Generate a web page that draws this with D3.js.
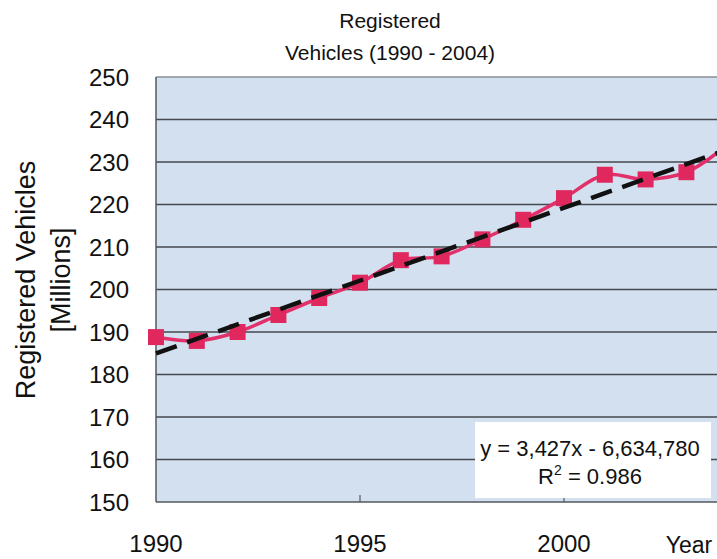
<!DOCTYPE html>
<html>
<head>
<meta charset="utf-8">
<script src="https://cdn.jsdelivr.net/npm/d3@7"></script>
<style>
  body { margin: 0; background: #fff; }
  svg { display: block; font-family: Arial, "Liberation Sans", sans-serif; }
</style>
</head>
<body>
<svg id="chart" width="717" height="559"></svg>
<script>
// values
var years = [1990, 1991, 1992, 1993, 1994, 1995, 1996, 1997, 1998, 1999, 2000, 2001, 2002, 2003, 2004];
var vehicles = [188.8, 187.9, 190.0, 194.0, 198.0, 201.6, 206.9, 207.8, 211.8, 216.4, 221.5, 227.0, 225.9, 227.6, 234.0];
var yTicks = [150, 160, 170, 180, 190, 200, 210, 220, 230, 240, 250];
var xTicks = [1990, 1995, 2000];
var trendSlope = 3.427;
var trendIntercept = -6634.780;
var equationText = "y = 3,427x - 6,634,780";
var r2Text = " = 0.986";

var svg = d3.select("#chart");
var plotLeft = 156, plotTop = 77, plotBottom = 502, plotRight = 717;

var x = d3.scaleLinear().domain([1990, 1995]).range([plotLeft, 360]);
var y = d3.scaleLinear().domain([150, 250]).range([plotBottom, plotTop]);

// plot area
svg.append("rect")
    .attr("x", plotLeft).attr("y", plotTop)
    .attr("width", plotRight - plotLeft).attr("height", plotBottom - plotTop)
    .attr("fill", "#d3e0f0");

// grid lines
svg.append("g").selectAll("line").data(yTicks.slice(1)).enter().append("line")
    .attr("x1", plotLeft).attr("x2", plotRight)
    .attr("y1", function(d){ return y(d); })
    .attr("y2", function(d){ return y(d); })
    .attr("stroke", function(d){ return d == 250 ? "#8a8f96" : "#45484e"; })
    .attr("stroke-width", 1.5);

// axes lines
svg.append("line").attr("x1", plotLeft).attr("x2", plotLeft).attr("y1", plotTop).attr("y2", plotBottom)
    .attr("stroke", "#55585d").attr("stroke-width", 1.5);
svg.append("line").attr("x1", plotLeft).attr("x2", plotRight).attr("y1", plotBottom).attr("y2", plotBottom)
    .attr("stroke", "#55585d").attr("stroke-width", 1.5);
svg.append("g").selectAll("line").data(xTicks.slice(1)).enter().append("line")
    .attr("x1", function(d){ return x(d); }).attr("x2", function(d){ return x(d); })
    .attr("y1", plotBottom - 7).attr("y2", plotBottom)
    .attr("stroke", "#55585d").attr("stroke-width", 1.2);

// y tick labels
svg.append("g").selectAll("text").data(yTicks).enter().append("text")
    .attr("x", 129).attr("y", function(d){ return y(d); })
    .attr("dy", "0.36em")
    .attr("text-anchor", "end")
    .attr("font-size", 24)
    .attr("fill", "#111")
    .text(function(d){ return d; });

// x tick labels
svg.append("g").selectAll("text").data(xTicks).enter().append("text")
    .attr("x", function(d){ return x(d); }).attr("y", 552)
    .attr("text-anchor", "middle")
    .attr("font-size", 24)
    .attr("fill", "#111")
    .text(function(d){ return d; });

svg.append("text").attr("x", 689).attr("y", 553).attr("text-anchor", "middle")
    .attr("font-size", 23).attr("fill", "#111").text("Year");

// titles
svg.append("text").attr("x", 390).attr("y", 28).attr("text-anchor", "middle")
    .attr("font-size", 21).attr("fill", "#111").text("Registered");
svg.append("text").attr("x", 390).attr("y", 60).attr("text-anchor", "middle")
    .attr("font-size", 21).attr("fill", "#111").text("Vehicles (1990 - 2004)");

var yt = svg.append("g").attr("transform", "translate(0,280) rotate(-90)");
yt.append("text").attr("x", 0).attr("y", 35).attr("text-anchor", "middle")
    .attr("font-size", 27).attr("fill", "#111").text("Registered Vehicles");
yt.append("text").attr("x", 0).attr("y", 70).attr("text-anchor", "middle")
    .attr("font-size", 27).attr("fill", "#111").text("[Millions]");

// clip to the visible part of the plot
svg.append("clipPath").attr("id", "plotClip").append("rect")
    .attr("x", plotLeft - 12).attr("y", plotTop - 12)
    .attr("width", plotRight - plotLeft + 12).attr("height", plotBottom - plotTop + 24);

var plot = svg.append("g").attr("clip-path", "url(#plotClip)");

var pts = years.map(function(d, i){ return {year: d, value: vehicles[i]}; });

var line = d3.line()
    .curve(d3.curveCatmullRom.alpha(0.5))
    .x(function(d){ return x(d.year); })
    .y(function(d){ return y(d.value); });

plot.append("path").datum(pts)
    .attr("d", line)
    .attr("fill", "none")
    .attr("stroke", "#e2306a")
    .attr("stroke-width", 3.5);

plot.selectAll("rect.mk").data(pts).enter().append("rect")
    .attr("class", "mk")
    .attr("x", function(d){ return x(d.year) - 8; })
    .attr("y", function(d){ return y(d.value) - 8; })
    .attr("width", 16).attr("height", 16)
    .attr("fill", "#e0285f");

// trend line
var trend = [years[0], years[years.length - 1]].map(function(d){
    return {year: d, value: trendSlope * d + trendIntercept};
});
plot.append("path").datum(trend)
    .attr("d", d3.line().x(function(d){ return x(d.year); }).y(function(d){ return y(d.value); }))
    .attr("fill", "none")
    .attr("stroke", "#111")
    .attr("stroke-width", 4.5)
    .attr("stroke-dasharray", "22,11");

// equation box
svg.append("rect").attr("x", 475).attr("y", 422).attr("width", 236).attr("height", 76)
    .attr("fill", "#fff");
svg.append("text").attr("x", 590).attr("y", 456).attr("text-anchor", "middle")
    .attr("font-size", 22).attr("fill", "#111").text(equationText);
var r2 = svg.append("text").attr("x", 590).attr("y", 484).attr("text-anchor", "middle")
    .attr("font-size", 22).attr("fill", "#111");
r2.append("tspan").text("R");
r2.append("tspan").attr("font-size", 14).attr("dy", -9).text("2");
r2.append("tspan").attr("dy", 9).text(r2Text);
</script>
</body>
</html>
